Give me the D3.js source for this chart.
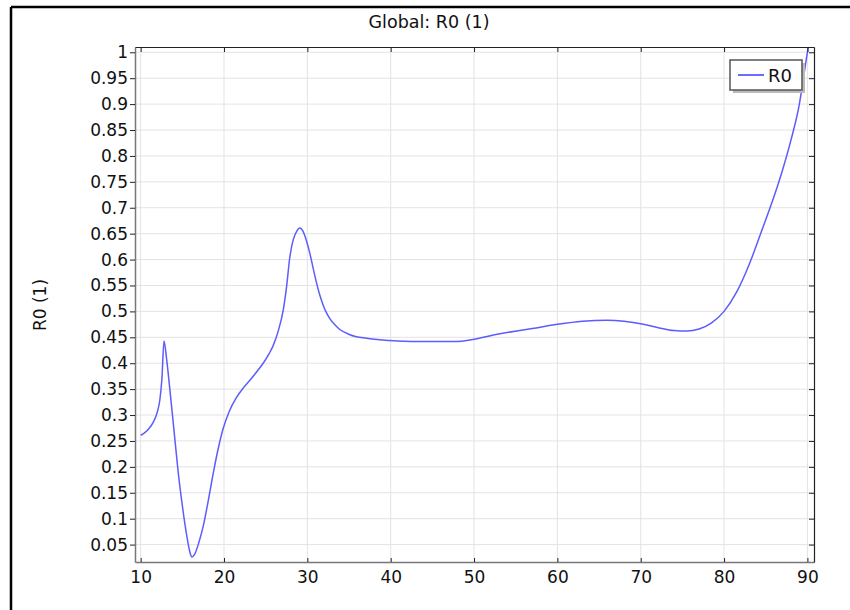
<!DOCTYPE html>
<html><head><meta charset="utf-8">
<script src="https://cdn.jsdelivr.net/npm/d3@7"></script>
<style>body{margin:0;background:#fff}svg{display:block}text{font-family:"DejaVu Sans",sans-serif;fill:#111}</style>
</head><body><svg id="c" width="850" height="610"></svg>
<script>
const title = "Global: R0 (1)";
const yLabel = "R0 (1)";
const seriesName = "R0";
const xTicks = [10,20,30,40,50,60,70,80,90];
const yTicks = [0.05,0.1,0.15,0.2,0.25,0.3,0.35,0.4,0.45,0.5,0.55,0.6,0.65,0.7,0.75,0.8,0.85,0.9,0.95,1];
const xs = [10,10.5,11,11.5,12,12.3,12.55,12.8,13.1,13.5,14,14.5,15,15.5,15.9,16.15,16.5,17,17.5,18,18.7,19.3,19.9,20.6,21.5,22.3,23.1,24,24.7,25.4,25.9,26.5,27.1,27.5,27.9,28.3,28.7,29.1,29.5,29.9,30.3,30.7,31.1,31.5,31.9,32.3,32.7,33.3,33.9,35.1,37.1,39.9,43.1,47.9,53.1,57,60,63,66,68,70,72,74,75.5,77,78.5,80,81.5,83,84.5,86,87,88,89,89.9,90.4];
const ys = [0.261,0.266,0.274,0.286,0.306,0.329,0.37,0.443,0.41,0.35,0.27,0.19,0.125,0.07,0.036,0.026,0.032,0.055,0.085,0.125,0.187,0.235,0.274,0.306,0.334,0.352,0.367,0.385,0.4,0.418,0.434,0.462,0.502,0.547,0.605,0.638,0.654,0.661,0.654,0.636,0.612,0.583,0.555,0.531,0.512,0.497,0.486,0.474,0.465,0.455,0.448,0.444,0.442,0.442,0.457,0.467,0.475,0.481,0.483,0.481,0.476,0.469,0.463,0.462,0.466,0.478,0.5,0.537,0.59,0.655,0.722,0.772,0.829,0.897,0.99,1.04];
const data = xs.map((x,i)=>({x, y: ys[i]}));

const svg = d3.select("#c");
const L=135, R=814, T=47, B=562;
const x = d3.scaleLinear().domain([9.32,90.79]).range([L,R]);
const y = d3.scaleLinear().domain([0.0164,1.0102]).range([B,T]);

// outer frame
svg.append("line").attr("x1",11).attr("x2",850).attr("y1",7).attr("y2",7).attr("stroke","#000").attr("stroke-width",2.5);
svg.append("line").attr("x1",11).attr("x2",11).attr("y1",7).attr("y2",610).attr("stroke","#000").attr("stroke-width",2.5);

// title
svg.append("text").attr("x",429).attr("y",28).attr("text-anchor","middle").attr("font-size",17.5).text(title);
svg.append("text").attr("transform","translate(46,305) rotate(-90)").attr("text-anchor","middle").attr("font-size",17).text(yLabel);

// grid
const g = svg.append("g");
g.selectAll(".gx").data(xTicks).join("line").attr("x1",d=>x(d)).attr("x2",d=>x(d)).attr("y1",T).attr("y2",B).attr("stroke","#e3e3e3").attr("stroke-width",1);
g.selectAll(".gy").data(yTicks).join("line").attr("x1",L).attr("x2",R).attr("y1",d=>y(d)).attr("y2",d=>y(d)).attr("stroke","#e3e3e3").attr("stroke-width",1);

// curve
svg.append("clipPath").attr("id","clip").append("rect").attr("x",L).attr("y",T).attr("width",R-L).attr("height",B-T);
svg.append("path").datum(data).attr("clip-path","url(#clip)")
  .attr("d",d3.line().x(d=>x(d.x)).y(d=>y(d.y)).curve(d3.curveMonotoneX))
  .attr("fill","none").attr("stroke","#5c5cff").attr("stroke-width",1.5);

// axes
const axL = d3.axisLeft(y).tickValues(yTicks).tickSize(5).tickSizeOuter(0).tickFormat(d3.format("~g"));
const gl = svg.append("g").attr("transform",`translate(${L},0)`).call(axL);
gl.select(".domain").attr("stroke","#777").attr("stroke-width",1.5);
gl.selectAll(".tick line").attr("stroke","#222");
gl.selectAll(".tick text").attr("font-size",17).attr("font-family","DejaVu Sans").attr("fill","#111").attr("x",-7);

const axB = d3.axisBottom(x).tickValues(xTicks).tickSize(-4).tickSizeOuter(0).tickFormat(d3.format("d"));
const gb = svg.append("g").attr("transform",`translate(0,${B})`).call(axB);
gb.select(".domain").attr("stroke","#777").attr("stroke-width",1.5);
gb.selectAll(".tick line").attr("stroke","#222");
gb.selectAll(".tick text").attr("font-size",17).attr("font-family","DejaVu Sans").attr("fill","#111").attr("y",9);

const axT = d3.axisTop(x).tickValues(xTicks).tickSize(-5).tickSizeOuter(0).tickFormat("");
const gt = svg.append("g").attr("transform",`translate(0,${T})`).call(axT);
gt.select(".domain").attr("stroke","#222").attr("stroke-width",1.2);
gt.selectAll(".tick line").attr("stroke","#222");

const axR = d3.axisRight(y).tickValues(yTicks).tickSize(-5).tickSizeOuter(0).tickFormat("");
const gr = svg.append("g").attr("transform",`translate(${R},0)`).call(axR);
gr.select(".domain").attr("stroke","#222").attr("stroke-width",1.2);
gr.selectAll(".tick line").attr("stroke","#222");

// legend
const lg = svg.append("g");
lg.append("rect").attr("x",733).attr("y",63).attr("width",72).attr("height",30).attr("fill","#bbb");
lg.append("rect").attr("x",730).attr("y",60).attr("width",72).attr("height",30).attr("fill","#fff").attr("stroke","#555").attr("stroke-width",1.5);
lg.append("line").attr("x1",738).attr("x2",764).attr("y1",75).attr("y2",75).attr("stroke","#3a3aff").attr("stroke-width",1.5);
lg.append("text").attr("x",768).attr("y",82).attr("font-size",18).text(seriesName);
</script></body></html>
